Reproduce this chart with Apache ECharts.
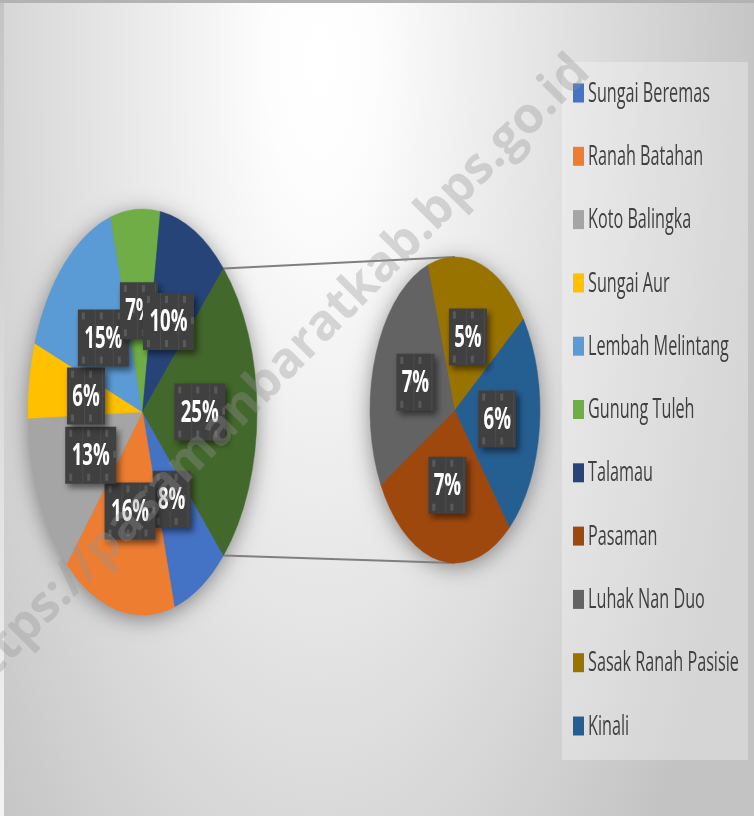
<!DOCTYPE html>
<html><head><meta charset="utf-8">
<script src="https://cdn.jsdelivr.net/npm/echarts@6/dist/echarts.min.js"></script>
<style>html,body{margin:0;padding:0;background:#fff}#c{width:754px;height:816px}</style>
</head><body><div id="c"></div>
<script>
// ---------- data ----------
const mainNames = ['Sungai Beremas','Ranah Batahan','Koto Balingka','Sungai Aur','Lembah Melintang','Gunung Tuleh','Talamau'];
const mainValues = [8,16,13,6,15,7,10];
const mainColors = ['#4472C4','#ED7D31','#A5A5A5','#FFC000','#5B9BD5','#70AD47','#264478'];
const subNames = ['Pasaman','Luhak Nan Duo','Sasak Ranah Pasisie','Kinali'];
const subValues = [7,7,5,6];
const subColors = ['#9E480E','#636363','#997300','#255E91'];
const otherName = 'Lainnya';
const otherColor = '#43682B';
const watermarkText = 'https://pasamanbaratkab.bps.go.id';

const legendNames = mainNames.concat(subNames);
const legendColors = mainColors.concat(subColors);
const otherValue = subValues.reduce((a,b)=>a+b,0);
const grandTotal = mainValues.reduce((a,b)=>a+b,0) + otherValue;

// ---------- layout ----------
const L = {cx:142.5, cy:412, rx:114.5, ry:203, start:45};
const R = {cx:455, cy:410, rx:85, ry:153, start:50};
const D = Math.PI/180;

// label tile pattern
const tile = document.createElement('canvas');
tile.width = 18; tile.height = 57;
(function(){
  const g = tile.getContext('2d');
  g.fillStyle = '#404040'; g.fillRect(0,0,18,57);
  g.fillStyle = '#4b4b4b'; g.fillRect(17,0,1,57);
  g.fillStyle = '#595959';
  g.fillRect(4,3,3,7); g.fillRect(4,47,3,7); g.fillRect(12,24,3,7);
})();

function pieSeries(geo, names, values, colors) {
  const total = values.reduce((a,b)=>a+b,0);
  const cum = []; let acc = 0;
  values.forEach(v => { cum.push(acc); acc += v; });
  return {
    type: 'custom', coordinateSystem: 'none', z: 2, silent: true,
    data: values.map((v,i) => ({name: names[i], value: [v, cum[i], total]})),
    renderItem: function (params, api) {
      const i = params.dataIndex;
      const v = api.value(0), c0 = api.value(1), tot = api.value(2);
      const a0 = (geo.start + c0 / tot * 360) * D;
      const a1 = (geo.start + (c0 + v) / tot * 360) * D;
      const mid = (a0 + a1) / 2;
      const lx = geo.cx + 0.5 * geo.rx * Math.cos(mid);
      const ly = geo.cy + 0.5 * geo.ry * Math.sin(mid);
      const pct = Math.round(v / grandTotal * 100) + '%';
      const w = 12 + 13 * pct.length, h = 57;
      return {
        type: 'group',
        children: [
          {type: 'sector', x: geo.cx, y: geo.cy, scaleX: geo.rx / geo.ry, z2: 0,
           shape: {cx: 0, cy: 0, r0: 0, r: geo.ry, startAngle: a0, endAngle: a1, clockwise: true},
           style: {fill: colors[i], stroke: colors[i], lineWidth: 0.6}},
          {type: 'rect', x: lx - w / 2, y: ly - h / 2, z2: 10 + 2 * i,
           shape: {x: 0, y: 0, width: w, height: h},
           style: {fill: {image: tile, repeat: 'repeat'}, shadowBlur: 6, shadowOffsetX: 3, shadowOffsetY: 4, shadowColor: 'rgba(0,0,0,0.5)'}},
          {type: 'text', x: lx, y: ly + 1, scaleX: 0.62, z2: 11 + 2 * i,
           style: {text: pct, fill: '#ffffff', font: 'bold 30px "Open Sans"', align: 'center', verticalAlign: 'middle'}}
        ]
      };
    }
  };
}

// connectors computed from geometry
const topA = (L.start + mainValues.reduce((a,b)=>a+b,0) / grandTotal * 360) * D;
const botA = (L.start + 360) * D;
const lineTop = [L.cx + L.rx * Math.cos(topA), L.cy + L.ry * Math.sin(topA), R.cx, R.cy - R.ry];
const lineBot = [L.cx + L.rx * Math.cos(botA), L.cy + L.ry * Math.sin(botA), R.cx, R.cy + R.ry];

const graphics = [];
// background (elliptical radial gradient)
const bgScale = 2.556, bgH = 813 / bgScale;
graphics.push({type: 'rect', x: 4, y: 3, scaleY: bgScale, z: -10, silent: true,
  shape: {x: 0, y: 0, width: 750, height: bgH},
  style: {fill: {type: 'radial', x: 316 / 750, y: (57 / bgScale) / bgH, r: 450 / bgH,
    colorStops: [{offset: 0, color: '#ffffff'}, {offset: 0.12, color: '#fdfdfd'}, {offset: 1, color: '#c3c3c3'}]}}});
graphics.push({type: 'rect', z: -9, silent: true, shape: {x: 0, y: 0, width: 754, height: 3}, style: {fill: '#b3b3b3'}});
graphics.push({type: 'rect', z: -9, silent: true, shape: {x: 0, y: 3, width: 4, height: 813},
  style: {fill: {type: 'linear', x: 0, y: 0, x2: 0, y2: 1, colorStops: [{offset: 0, color: '#c4c4c4'}, {offset: 1, color: '#f4f4f4'}]}}});
// pie shadows
[L, R].forEach(g => graphics.push({type: 'ellipse', z: 1, silent: true,
  shape: {cx: g.cx, cy: g.cy, rx: g.rx - 1, ry: g.ry - 1},
  style: {fill: '#777', shadowBlur: 22, shadowOffsetY: 4, shadowColor: 'rgba(0,0,0,0.45)'}}));
// connectors
[lineTop, lineBot].forEach(p => graphics.push({type: 'line', z: 1, silent: true,
  shape: {x1: p[0], y1: p[1], x2: p[2], y2: p[3]}, style: {stroke: '#7f7f7f', lineWidth: 2}}));
// legend
graphics.push({type: 'rect', z: 5, silent: true, shape: {x: 562, y: 62, width: 186, height: 698}, style: {fill: 'rgba(255,255,255,0.3)'}});
legendNames.forEach((n, i) => {
  const y = 93 + 63.3 * i;
  graphics.push({type: 'rect', z: 6, silent: true, shape: {x: 573, y: y - 9.5, width: 11, height: 19}, style: {fill: legendColors[i]}});
  graphics.push({type: 'text', z: 6, silent: true, x: 588, y: y + 1, scaleX: 0.6,
    style: {text: n, fill: '#404040', font: '27px "Open Sans"', align: 'left', verticalAlign: 'middle'}});
});
// watermark
graphics.push({type: 'text', z: 100, silent: true, x: 271, y: 378, rotation: 45.3 * D,
  style: {text: watermarkText, fill: 'rgba(150,150,150,0.35)', font: 'bold 50px "Open Sans"', align: 'center', verticalAlign: 'middle'}});

const chart = echarts.init(document.getElementById('c'), null, {renderer: 'canvas'});
chart.setOption({
  animation: false,
  backgroundColor: '#ffffff',
  graphic: {elements: graphics},
  series: [
    pieSeries(L, mainNames.concat([otherName]), mainValues.concat([otherValue]), mainColors.concat([otherColor])),
    pieSeries(R, subNames, subValues, subColors)
  ]
});
</script></body></html>
